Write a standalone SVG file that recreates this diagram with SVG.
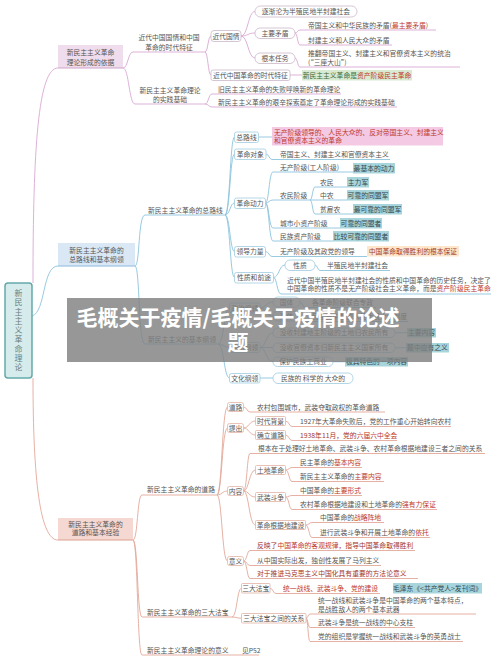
<svg xmlns="http://www.w3.org/2000/svg" width="500" height="662" viewBox="0 0 500 662">
<style>
text{font-family:"Noto Sans CJK SC","Noto Sans",sans-serif;font-size:6.8px;fill:#555}
.m{text-anchor:middle}
.r{fill:#c0392b}
.dr{fill:#a3342c}
.g{fill:#3f6b3a}
.tl{fill:#34484e}
.or{fill:#a3402c}
.l{fill:none;stroke-width:0.9}
.la{stroke:#d9a8d3}
.lb{stroke:#8cc4dc}
.lc{stroke:#e3a898}
.ba{fill:#fff;stroke:#cbb6c9;stroke-width:0.8}
.bb{fill:#fff;stroke:#9fcbe0;stroke-width:0.8}
.bc{fill:#fff;stroke:#e2b3a5;stroke-width:0.8}
.hl{fill:#a8d5dc}
.hp{fill:#f3c9e3}
.ho{fill:#fde6cc}
.hg{fill:#d8ead2}
.wm{font-size:21px;font-weight:bold;fill:#fff}
</style>
<rect width="500" height="662" fill="#fff"/>

<g id="connectors">
<path class="l la" stroke-width="1.2" d="M33,283 C33,150 38,68 58,68"/>
<path class="l la" d="M123,68 C128,68 128,52 133,52 H205 M123,68 C129,68 129,104 135,104 H205"/>
<path class="l la" d="M205,52 C208,52 208,36 211,36 M205,52 C208,52 208,75 211,75"/>
<path class="l la" d="M241,36 C248,36 248,11.5 255,11.5 M241,36 C248,36 248,33 255,33 M241,36 C248,36 248,58 255,58"/>
<path class="l la" d="M295,33 C297.5,33 297.5,30 300,30 H436 M295,33 C297.5,33 297.5,45 300,45 H392 M295,58 C297.5,58 297.5,67 300,67 H460"/>
<path class="l la" d="M290,75 H302"/>
<path class="l la" d="M205,104 C208.5,104 208.5,94 212,94 H341 M205,104 C208.5,104 208.5,107 212,107 H397"/>
<path class="l lb" stroke-width="1.2" d="M32,316 C46,312 42,266 58,266"/>
<path class="l lb" d="M135,266 C140,266 138,215 145,215 H225 M135,266 C140,266 138,344 145,344 H218"/>
<path class="l lb" d="M225,215 C230,215 230,137 234.5,137 M225,215 C230,215 230,154 234.5,154 M225,215 C230,215 230,203 234.5,203 M225,215 C230,215 230,251.5 234.5,251.5 M225,215 C230,215 230,277.5 234.5,277.5"/>
<path class="l lb" d="M258.5,137 H272 M266,154 C269,154 269,159.5 272,159.5 H390"/>
<path class="l lb" d="M265.5,203 C269,203 269,172 273,172 H353 M265.5,203 C269,203 269,200 273,200 H310 M265.5,203 C269,203 269,228 273,228 H340 M265.5,203 C269,203 269,241 273,241 H333"/>
<path class="l lb" d="M310,200 C312.5,200 312.5,187 315,187 H347 M310,200 H347 M310,200 C312.5,200 312.5,214 315,214 H353"/>
<path class="l lb" d="M265.5,251.5 C269,251.5 269,256.5 272,256.5 H367"/>
<path class="l lb" d="M273.5,277.5 C279,277.5 279,265 285,265 M273.5,277.5 C277,277.5 277,294 281,294 H491 M315,265 C317.5,265 317.5,270.5 320,270.5 H390"/>
<path class="l lb" d="M218,344 C224,344 224,308 229.5,308 M218,344 C224,344 224,347.5 229.5,347.5 M218,344 C224,344 224,378 229.5,378"/>
<path class="l lb" d="M260,308 C266,308 266,302 273,302 M260,308 C266,308 266,316 273,316 M300,302 C302.5,302 302.5,307.5 305,307.5 H376 M300,316 C302.5,316 302.5,321.5 305,321.5 H408"/>
<path class="l lb" d="M260,347.5 C266,347.5 266,332.75 273,332.75 M260,347.5 H273 M260,347.5 C266,347.5 266,361.75 273,361.75 M395,332.75 H407 M395,347.75 H406 M333,361.75 H345 M260,378 H273"/>
<path class="l lc" stroke-width="1.2" d="M33,378 C33,480 40,540 58,540"/>
<path class="l lc" d="M133,540 C138,540 137,495 142,495 H217 M133,540 C138,540 137,617 142,617 H232 M133,540 C138,540 137,655 142,655 H232"/>
<path class="l lc" d="M217,495 C222,495 222,407 227.5,407 M217,495 C222,495 222,428 227.5,428 M217,495 C222,495 222,491 227.5,491 M217,495 C222,495 222,561 227.5,561"/>
<path class="l lc" d="M243.5,407 C247,407 247,412 250,412 H385"/>
<path class="l lc" d="M243.5,428 C249,428 249,421 255.5,421 M243.5,428 C249,428 249,435 255.5,435 M285.5,421 C289,421 289,426.5 292,426.5 H451 M285.5,435 C289,435 289,440.5 292,440.5 H397"/>
<path class="l lc" d="M243.5,491 C247,491 247,453.5 250,453.5 H485 M243.5,491 C249,491 249,470 255.5,470 M243.5,491 C249,491 249,497 255.5,497 M243.5,491 C249,491 249,525 255.5,525"/>
<path class="l lc" d="M285.5,470 C289,470 289,467.5 292,467.5 H362 M285.5,470 C289,470 289,481.5 292,481.5 H384"/>
<path class="l lc" d="M285.5,497 C289,497 289,495.5 292,495.5 H362 M285.5,497 C289,497 289,509.5 292,509.5 H437"/>
<path class="l lc" d="M305.5,525 C309,525 309,522.5 312,522.5 H384 M305.5,525 C309,525 309,537.5 312,537.5 H430"/>
<path class="l lc" d="M243.5,561 C247,561 247,550.5 250,550.5 H415 M243.5,561 C247,561 247,565.5 250,565.5 H381 M243.5,561 C247,561 247,578.5 250,578.5 H418"/>
<path class="l lc" d="M232,617 C237,617 237,588.25 241.5,588.25 M232,617 C237,617 237,618.25 241.5,618.25"/>
<path class="l lc" d="M270,588.25 C273,588.25 273,593.5 276,593.5 H380"/>
<path class="l lc" d="M306,618.25 C308,618.25 308,614 310,614 H476 M306,618.25 C308,618.25 308,627.5 310,627.5 H415 M306,618.25 C308,618.25 308,641.5 310,641.5 H463"/>
<path class="l lc" d="M232,655 H259"/>
</g>

<g id="root">
<rect x="5" y="283" width="27" height="95" rx="3" fill="#d6ecec" stroke="#66a9a9" stroke-width="1.5"/>
<text x="18.5" y="296" class="m" style="font-size:8px;fill:#6a7f7f"><tspan x="18.5">新</tspan><tspan x="18.5" dy="9.25">民</tspan><tspan x="18.5" dy="9.25">主</tspan><tspan x="18.5" dy="9.25">主</tspan><tspan x="18.5" dy="9.25">义</tspan><tspan x="18.5" dy="9.25">革</tspan><tspan x="18.5" dy="9.25">命</tspan><tspan x="18.5" dy="9.25">理</tspan><tspan x="18.5" dy="9.25">论</tspan></text>
</g>

<g id="nA">
<rect x="58" y="45" width="65" height="23" fill="#efdcec"/>
<path d="M58,68 H123" stroke="#cfa3ca" stroke-width="1.2"/>
<text x="90.5" y="55" class="m">新民主主义革命</text>
<text x="90.5" y="64.5" class="m">理论形成的依据</text>
</g>
<g id="nA1"><text x="169" y="40" class="m">近代中国国情和中国</text><text x="169" y="49.5" class="m">革命的时代特征</text></g>
<g id="nA2"><text x="170" y="93" class="m">新民主主义革命理论</text><text x="170" y="102" class="m">的实践基础</text></g>
<g id="nA1a"><rect class="ba" x="211" y="30.5" width="30" height="11" rx="3"/><text x="226" y="38.5" class="m">近代国情</text></g>
<g id="nA1a1"><rect class="ba" x="255" y="6" width="102" height="11" rx="5.5"/><text x="306" y="14" class="m">逐渐沦为半殖民地半封建社会</text></g>
<g id="nA1a2"><rect class="ba" x="255" y="28" width="40" height="10.5" rx="5"/><text x="275" y="35.5" class="m">主要矛盾</text></g>
<g id="nA1a3"><rect class="ba" x="255" y="53" width="40" height="10.5" rx="5"/><text x="275" y="60.5" class="m">根本任务</text></g>
<g id="nA1a2a"><text x="308" y="27.5">帝国主义和中华民族的矛盾(<tspan class="r">最主要矛盾</tspan>)</text></g>
<g id="nA1a2b"><text x="308" y="42.5">封建主义和人民大众的矛盾</text></g>
<g id="nA1a3a"><text x="308" y="55.5">推翻帝国主义、封建主义和官僚资本主义的统治</text><text x="308" y="64.5">(“三座大山”)</text></g>
<g id="nA1b"><rect class="ba" x="211" y="70" width="79" height="10.5" rx="2"/><text x="250.5" y="77.5" class="m">近代中国革命的时代特征</text></g>
<g id="nA1b1"><rect class="hg" x="302" y="70" width="110" height="10.5"/><text x="357" y="77.5" class="m"><tspan class="g">新民主主义革命是</tspan><tspan class="r">资产阶级民主革命</tspan></text></g>
<g id="nA2a"><text x="218" y="91.5">旧民主主义革命的失败呼唤新的革命理论</text></g>
<g id="nA2b"><text x="218" y="104.5">新民主主义革命的艰辛探索奠定了革命理论形成的实践基础</text></g>

<g id="nB">
<rect x="58" y="243" width="77" height="23" fill="#dae8f6"/>
<path d="M58,266 H135" stroke="#8ab8dc" stroke-width="1.2"/>
<text x="96.5" y="252.5" class="m">新民主主义革命的</text>
<text x="96.5" y="261.5" class="m">总路线和基本纲领</text>
</g>
<g id="nB1"><text x="148" y="212.5">新民主主义革命的总路线</text></g>
<g id="nB2"><text x="148" y="341.5">新民主主义的基本纲领</text></g>
<g id="nB1a"><rect class="bb" x="234.5" y="132" width="24" height="10.5" rx="2"/><text x="246.5" y="139.5" class="m">总路线</text></g>
<g id="nB1a1"><rect class="hp" x="272" y="127" width="171" height="18.5"/><text x="274" y="134.5" class="r">无产阶级领导的、人民大众的、反对帝国主义、封建主义</text><text x="274" y="142.5" class="r">和官僚资本主义的革命</text></g>
<g id="nB1b"><rect class="bb" x="234.5" y="149" width="31.5" height="10.5" rx="2"/><text x="250.25" y="156.5" class="m">革命对象</text></g>
<g id="nB1b1"><text x="280" y="156.5">帝国主义、封建主义和官僚资本主义</text></g>
<g id="nB1c"><rect class="bb" x="234.5" y="198" width="31" height="10.5" rx="2"/><text x="250" y="205.5" class="m">革命动力</text></g>
<g id="nB1c1"><text x="280" y="169.5">无产阶级(工人阶级)</text><rect class="hl" x="353" y="163" width="42" height="10.5"/><text x="374" y="170.5" class="m tl">最基本的动力</text></g>
<g id="nB1c2"><text x="280" y="197.5">农民阶级</text></g>
<g id="nB1c2a"><text x="320" y="184.5">农民</text><rect class="hl" x="347" y="177" width="22" height="10.5"/><text x="358" y="184.5" class="m tl">主力军</text></g>
<g id="nB1c2b"><text x="320" y="197.5">中农</text><rect class="hl" x="347" y="190" width="42" height="10.5"/><text x="368" y="197.5" class="m tl">可靠的同盟军</text></g>
<g id="nB1c2c"><text x="320" y="211.5">贫雇农</text><rect class="hl" x="353" y="204" width="49" height="10.5"/><text x="377.5" y="211.5" class="m tl">最可靠的同盟军</text></g>
<g id="nB1c3"><text x="280" y="225.5">城市小资产阶级</text><rect class="hl" x="340" y="218" width="42" height="10.5"/><text x="361" y="225.5" class="m tl">可靠的同盟者</text></g>
<g id="nB1c4"><text x="280" y="238.5">民族资产阶级</text><rect class="hl" x="333" y="231" width="56" height="10.5"/><text x="361" y="238.5" class="m tl">比较可靠的同盟者</text></g>
<g id="nB1d"><rect class="bb" x="234.5" y="246.5" width="31" height="10.5" rx="2"/><text x="250" y="254" class="m">领导力量</text></g>
<g id="nB1d1"><text x="280" y="253.5">无产阶级及其政党的领导</text><rect class="ho" x="367" y="246" width="92" height="10.5"/><text x="413" y="253.5" class="m or">中国革命取得胜利的根本保证</text></g>
<g id="nB1e"><rect class="bb" x="234.5" y="272.5" width="39" height="10.5" rx="2"/><text x="254" y="280" class="m">性质和前途</text></g>
<g id="nB1e1"><rect class="bb" x="285" y="260" width="30" height="10.5" rx="5"/><text x="300" y="267.5" class="m">性质</text></g>
<g id="nB1e1a"><text x="327" y="267.5">半殖民地半封建社会</text></g>
<g id="nB1e2"><text x="287" y="282.5">近代中国半殖民地半封建社会的性质和中国革命的历史任务，决定了</text><text x="287" y="291">中国革命的性质不是无产阶级社会主义革命，而是<tspan class="r">资产阶级民主革命</tspan></text></g>
<g id="nB2a"><rect class="bb" x="229.5" y="303" width="30.5" height="10" rx="2"/><text x="244.75" y="310.5" class="m">政治纲领</text></g>
<g id="nB2a1"><rect class="bb" x="273" y="297" width="27" height="10" rx="5"/><text x="286.5" y="304.5" class="m">国体</text><text x="312" y="304.5">各革命阶级联合专政</text></g>
<g id="nB2a2"><rect class="bb" x="273" y="311" width="27" height="10" rx="5"/><text x="286.5" y="318.5" class="m">政体</text><text x="312" y="318.5">民主集中制的人民代表大会制度</text></g>
<g id="nB2b"><rect class="bb" x="229.5" y="342.5" width="30.5" height="10" rx="2"/><text x="244.75" y="350" class="m">经济纲领</text></g>
<g id="nB2b1"><rect class="bb" x="273" y="328" width="122" height="9.5" rx="4.5"/><text x="334" y="335" class="m">没收封建地主阶级的土地归农民所有</text><rect class="hl" x="407" y="328" width="29" height="9.5"/><text x="421.5" y="335" class="m tl">主要内容</text></g>
<g id="nB2b2"><rect class="bb" x="273" y="343" width="122" height="9.5" rx="4.5"/><text x="334" y="350" class="m">没收官僚资本归新民主主义国家所有</text><rect class="hl" x="406" y="343" width="43" height="9.5"/><text x="427.5" y="350" class="m tl">题中应有之义</text></g>
<g id="nB2b3"><rect class="bb" x="273" y="357" width="60" height="9.5" rx="4.5"/><text x="303" y="364" class="m">保护民族工商业</text><rect class="hl" x="345" y="357" width="63" height="9.5"/><text x="376.5" y="364" class="m tl">极具特色的一项内容</text></g>
<g id="nB2c"><rect class="bb" x="229.5" y="373.5" width="30.5" height="9.5" rx="2"/><text x="244.75" y="380.5" class="m">文化纲领</text></g>
<g id="nB2c1"><rect class="bb" x="273" y="373" width="80" height="10.5" rx="5"/><text x="313" y="380.5" class="m">民族的 科学的 大众的</text></g>

<g id="nC">
<rect x="58" y="518" width="75" height="22" fill="#f5d8d2"/>
<path d="M58,540 H133" stroke="#dca090" stroke-width="1.2"/>
<text x="95.5" y="526.5" class="m">新民主主义革命的</text>
<text x="95.5" y="535" class="m">道路和基本经验</text>
</g>
<g id="nC1"><text x="147" y="491.5">新民主主义革命的道路</text></g>
<g id="nC2"><text x="147" y="614.5">新民主主义革命的三大法宝</text></g>
<g id="nC3"><text x="147" y="652.5">新民主主义革命理论的意义</text></g>
<g id="nC3a"><text x="242" y="652.5">见P52</text></g>
<g id="nC1a"><rect class="bc" x="227.5" y="402.5" width="16" height="9" rx="2"/><text x="235.5" y="409.5" class="m">道路</text></g>
<g id="nC1a1"><text x="257" y="409.5">农村包围城市，武装夺取政权的革命道路</text></g>
<g id="nC1b"><rect class="bc" x="227.5" y="423.5" width="16" height="9" rx="2"/><text x="235.5" y="430.5" class="m">提出</text></g>
<g id="nC1b1"><rect class="bc" x="255.5" y="416.5" width="30" height="9" rx="1"/><text x="270.5" y="423.5" class="m">时代背景</text><text x="300" y="423.5">1927年大革命失败后，党的工作重心开始转向农村</text></g>
<g id="nC1b2"><rect class="bc" x="255.5" y="430.5" width="30" height="9" rx="1"/><text x="270.5" y="437.5" class="m">确立道路</text><text x="300" y="437.5" class="dr">1938年11月，党的<tspan class="r">六届六中全会</tspan></text></g>
<g id="nC1c"><rect class="bc" x="227.5" y="486.5" width="16" height="9" rx="2"/><text x="235.5" y="493.5" class="m">内容</text></g>
<g id="nC1c1"><text x="258" y="450.5">根本在于处理好土地革命、武装斗争、农村革命根据地建设三者之间的关系</text></g>
<g id="nC1c2"><rect class="bc" x="255.5" y="465.5" width="30" height="9" rx="1"/><text x="270.5" y="472.5" class="m">土地革命</text></g>
<g id="nC1c2a"><text x="300" y="464.5">民主革命的<tspan class="r">基本内容</tspan></text></g>
<g id="nC1c2b"><text x="300" y="478.5">新民主主义革命的<tspan class="r">主要内容</tspan></text></g>
<g id="nC1c3"><rect class="bc" x="255.5" y="492.5" width="30" height="9" rx="1"/><text x="270.5" y="499.5" class="m">武装斗争</text></g>
<g id="nC1c3a"><text x="300" y="492.5">中国革命的<tspan class="r">主要形式</tspan></text></g>
<g id="nC1c3b"><text x="300" y="506.5">农村革命根据地建设和土地革命的<tspan class="r">强有力保证</tspan></text></g>
<g id="nC1c4"><rect class="bc" x="255.5" y="520.5" width="50" height="9" rx="1"/><text x="280.5" y="527.5" class="m">革命根据地建设</text></g>
<g id="nC1c4a"><text x="320" y="519.5">中国革命的<tspan class="r">战略阵地</tspan></text></g>
<g id="nC1c4b"><text x="320" y="534.5">进行武装斗争和开展土地革命的<tspan class="r">依托</tspan></text></g>
<g id="nC1d"><rect class="bc" x="227.5" y="556.5" width="16" height="9" rx="2"/><text x="235.5" y="563.5" class="m">意义</text></g>
<g id="nC1d1"><text x="257" y="547.5" class="dr">反映了<tspan class="r">中国革命的客观规律</tspan>，指导中国革命取得胜利</text></g>
<g id="nC1d2"><text x="257" y="562.5">从中国实际出发，独创性发展了马列主义</text></g>
<g id="nC1d3"><text x="257" y="575.5" class="dr">对于推进马克思主义中国化具有重要的方法论意义</text></g>
<g id="nC2a"><rect class="bc" x="241.5" y="583.5" width="28.5" height="9.5" rx="1"/><text x="255.75" y="590.5" class="m">三大法宝</text></g>
<g id="nC2a1"><text x="283" y="590.5" class="r">统一战线、武装斗争、党的建设</text><rect class="hl" x="393" y="583" width="89" height="10.5"/><text x="437.5" y="590.5" class="m tl">毛泽东《&lt;共产党人&gt;发刊词》</text></g>
<g id="nC2b"><rect class="bc" x="241.5" y="613.5" width="64.5" height="9.5" rx="1"/><text x="273.75" y="620.5" class="m">三大法宝之间的关系</text></g>
<g id="nC2b1"><text x="318" y="603">统一战线和武装斗争是中国革命的两个基本特点，</text><text x="318" y="611.5">是战胜敌人的两个基本武器</text></g>
<g id="nC2b2"><text x="318" y="624.5">武装斗争是统一战线的中心支柱</text></g>
<g id="nC2b3"><text x="318" y="638.5">党的组织是掌握统一战线和武装斗争的英勇战士</text></g>

<g id="watermark">
<rect x="67" y="298" width="365" height="64" fill="#808080" fill-opacity="0.82"/>
<text x="238" y="324.5" class="m wm">毛概关于疫情/毛概关于疫情的论述</text>
<text x="238" y="350" class="m wm">题</text>
</g>
</svg>
